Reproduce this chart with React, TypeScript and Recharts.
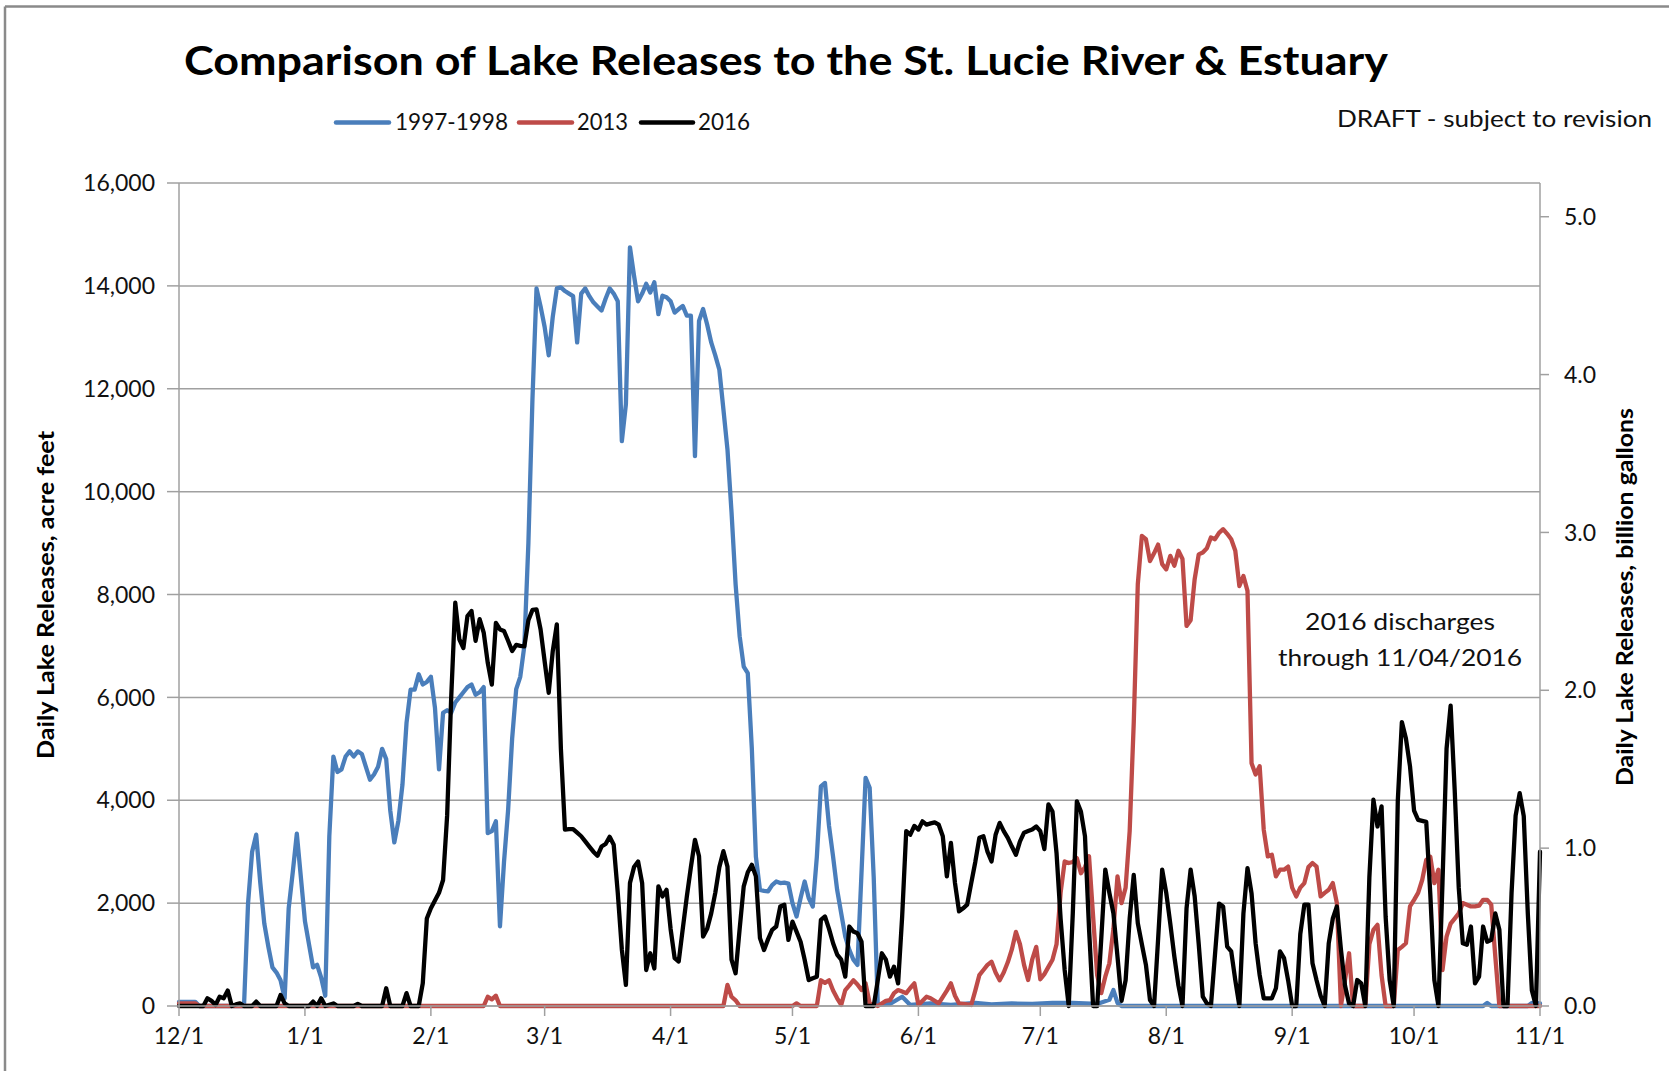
import React from 'react';
import { LineChart, Line, XAxis, YAxis, CartesianGrid } from 'recharts';

// x axis: day index counted from 12/1
const monthTickDays = [0, 31, 62, 90, 121, 151, 182, 212, 243, 274, 304, 335];
const monthTickLabels = ['12/1', '1/1', '2/1', '3/1', '4/1', '5/1', '6/1', '7/1', '8/1', '9/1', '10/1', '11/1'];
const acreFeetTicks = [0, 2000, 4000, 6000, 8000, 10000, 12000, 14000, 16000];
const billionGallonTicks = [0, 1, 2, 3, 4, 5];
const GALLONS_PER_ACRE_FOOT = 325851;

const seriesNames = ['1997-1998', '2013', '2016'];

// [day, acre feet]
const releases1997_98: [number, number][] = [
  [0, 80], [4, 80], [5, 0], [16, 0], [17, 2000], [18, 3000], [19, 3330], [20, 2400], [21, 1600], [22, 1150], [23, 750],
  [24, 650], [25, 500], [26, 150], [27, 1900], [28, 2600], [29, 3350], [30, 2500], [31, 1650], [32, 1200], [33, 750],
  [34, 800], [35, 550], [36, 200], [37, 3300], [38, 4850], [39, 4550], [40, 4600], [41, 4850], [42, 4950], [43, 4850],
  [44, 4950], [45, 4900], [46, 4650], [47, 4400], [48, 4500], [49, 4650], [50, 5000], [51, 4800], [52, 3800], [53, 3180],
  [54, 3600], [55, 4300], [56, 5500], [57, 6150], [58, 6150], [59, 6450], [60, 6250], [61, 6300], [62, 6400], [63, 5800],
  [64, 4600], [65, 5700], [66, 5750], [67, 5700], [68, 5900], [69, 6000], [70, 6100], [71, 6200], [72, 6250], [73, 6050],
  [74, 6100], [75, 6200], [76, 3360], [77, 3400], [78, 3590], [79, 1550], [80, 2800], [81, 3800], [82, 5200], [83, 6160],
  [84, 6400], [85, 7000], [86, 9000], [87, 11800], [88, 13950], [89, 13600], [90, 13200], [91, 12650], [92, 13400],
  [93, 13950], [94, 13970], [95, 13900], [96, 13850], [97, 13800], [98, 12900], [99, 13850], [100, 13950], [101, 13800],
  [102, 13680], [103, 13600], [104, 13520], [105, 13750], [106, 13950], [107, 13850], [108, 13700], [109, 10980],
  [110, 11700], [111, 14750], [112, 14200], [113, 13700], [114, 13850], [115, 14040], [116, 13870], [117, 14070],
  [118, 13450], [119, 13810], [120, 13780], [121, 13700], [122, 13480], [123, 13550], [124, 13610], [125, 13420],
  [126, 13420], [127, 10690], [128, 13320], [129, 13550], [130, 13250], [131, 12900], [132, 12650], [133, 12370],
  [134, 11600], [135, 10820], [136, 9600], [137, 8200], [138, 7190], [139, 6600], [140, 6470], [141, 5000], [142, 2900],
  [143, 2257], [144, 2240], [145, 2230], [146, 2350], [147, 2420], [148, 2390], [149, 2400], [150, 2380], [151, 2000],
  [152, 1740], [153, 2100], [154, 2420], [155, 2100], [156, 1935], [157, 2900], [158, 4270], [159, 4336], [160, 3500],
  [161, 2900], [162, 2257], [163, 1800], [164, 1350], [165, 1090], [166, 900], [167, 800], [168, 2600], [169, 4435],
  [170, 4240], [171, 2500], [172, 20], [175, 40], [178, 180], [180, 20], [185, 50], [190, 20], [196, 60], [200, 30],
  [205, 50], [210, 40], [215, 60], [220, 60], [226, 40], [229, 120], [230, 310], [231, 60], [232, 0], [321, 0], [322, 60],
  [323, 0], [332, 0], [333, 60], [335, 50],
];

const releases2013: [number, number][] = [
  [0, 50], [4, 50], [5, 0], [75, 0], [76, 180], [77, 130], [78, 200], [79, 0], [134, 0], [135, 410], [136, 180], [137, 110],
  [138, 0], [151, 0], [152, 50], [153, 0], [157, 0], [158, 500], [159, 450], [160, 500], [161, 300], [162, 150], [163, 20],
  [164, 310], [165, 400], [166, 500], [167, 420], [168, 310], [169, 440], [170, 50], [172, 0], [174, 100], [175, 115],
  [176, 250], [177, 310], [178, 280], [179, 250], [180, 350], [181, 440], [182, 20], [184, 180], [185, 150], [187, 50],
  [189, 300], [190, 440], [191, 200], [192, 50], [195, 20], [196, 300], [197, 600], [198, 700], [199, 800], [200, 860],
  [201, 650], [202, 500], [203, 650], [204, 850], [205, 1100], [206, 1440], [207, 1200], [208, 800], [209, 505],
  [210, 900], [211, 1150], [212, 520], [213, 620], [214, 760], [215, 900], [216, 1200], [217, 2200], [218, 2810],
  [219, 2780], [220, 2800], [221, 2875], [222, 2580], [223, 2700], [224, 2910], [225, 1740], [226, 600], [227, 250],
  [228, 570], [229, 830], [230, 1500], [231, 2520], [232, 2000], [233, 2300], [234, 3400], [235, 5500], [236, 8200],
  [237, 9140], [238, 9075], [239, 8650], [240, 8800], [241, 8970], [242, 8590], [243, 8490], [244, 8750], [245, 8560],
  [246, 8850], [247, 8690], [248, 7390], [249, 7500], [250, 8300], [251, 8780], [252, 8815], [253, 8900], [254, 9110],
  [255, 9075], [256, 9200], [257, 9270], [258, 9180], [259, 9075], [260, 8850], [261, 8165], [262, 8360], [263, 8070],
  [264, 4720], [265, 4500], [266, 4660], [267, 3427], [268, 2908], [269, 2940], [270, 2520], [271, 2650], [272, 2650],
  [273, 2710], [274, 2300], [275, 2130], [276, 2300], [277, 2390], [278, 2700], [279, 2780], [280, 2710], [281, 2130],
  [282, 2200], [283, 2260], [284, 2390], [285, 2000], [286, 0], [287, 500], [288, 1025], [289, 0], [292, 0], [293, 1200],
  [294, 1480], [295, 1577], [296, 600], [297, 0], [299, 0], [300, 1090], [301, 1150], [302, 1220], [303, 1935],
  [304, 2064], [305, 2200], [306, 2450], [307, 2840], [308, 2900], [309, 2390], [310, 2650], [311, 700], [312, 1350],
  [313, 1600], [314, 1700], [315, 1800], [316, 2000], [317, 1970], [318, 1935], [319, 1935], [320, 1950], [321, 2064],
  [322, 2064], [323, 1970], [324, 960], [325, 0], [335, 0],
];

const releases2016: [number, number][] = [
  [0, 0], [6, 0], [7, 150], [8, 100], [9, 20], [10, 180], [11, 150], [12, 300], [13, 0], [14, 30], [15, 50], [16, 0],
  [18, 0], [19, 85], [20, 0], [24, 0], [25, 215], [26, 50], [27, 0], [32, 0], [33, 85], [34, 0], [35, 150], [36, 0],
  [38, 50], [39, 0], [43, 0], [44, 40], [45, 0], [50, 0], [51, 345], [52, 0], [55, 0], [56, 250], [57, 0], [59, 0],
  [60, 440], [61, 1700], [62, 1900], [63, 2050], [64, 2200], [65, 2450], [66, 3700], [67, 6000], [68, 7840], [69, 7130],
  [70, 6960], [71, 7580], [72, 7680], [73, 7100], [74, 7520], [75, 7260], [76, 6670], [77, 6250], [78, 7450], [79, 7320],
  [80, 7290], [81, 7100], [82, 6900], [83, 7020], [84, 7000], [85, 6990], [86, 7500], [87, 7700], [88, 7710], [89, 7320],
  [90, 6700], [91, 6090], [92, 6900], [93, 7420], [94, 5000], [95, 3430], [96, 3440], [97, 3440], [98, 3370], [99, 3300],
  [100, 3200], [101, 3100], [102, 3000], [103, 2920], [104, 3100], [105, 3150], [106, 3290], [107, 3135], [108, 2200],
  [109, 1100], [110, 410], [111, 2390], [112, 2700], [113, 2810], [114, 2390], [115, 700], [116, 1025], [117, 730],
  [118, 2325], [119, 2130], [120, 2260], [121, 1500], [122, 930], [123, 865], [124, 1500], [125, 2130], [126, 2700],
  [127, 3230], [128, 2910], [129, 1350], [130, 1500], [131, 1800], [132, 2200], [133, 2700], [134, 3010], [135, 2710],
  [136, 900], [137, 636], [138, 1500], [139, 2325], [140, 2600], [141, 2745], [142, 2520], [143, 1320], [144, 1090],
  [145, 1300], [146, 1480], [147, 1545], [148, 1935], [149, 1970], [150, 1285], [151, 1640], [152, 1447], [153, 1250],
  [154, 900], [155, 505], [156, 540], [157, 570], [158, 1675], [159, 1740], [160, 1500], [161, 1220], [162, 1000],
  [163, 900], [164, 570], [165, 1545], [166, 1447], [167, 1415], [168, 1250], [169, 0], [171, 0], [172, 500], [173, 1025],
  [174, 900], [175, 570], [176, 765], [177, 440], [178, 1740], [179, 3400], [180, 3330], [181, 3500], [182, 3430],
  [183, 3590], [184, 3525], [185, 3550], [186, 3570], [187, 3525], [188, 3300], [189, 2520], [190, 3170], [191, 2390],
  [192, 1840], [193, 1900], [194, 1970], [195, 2390], [196, 2800], [197, 3270], [198, 3300], [199, 3000], [200, 2810],
  [201, 3330], [202, 3560], [203, 3400], [204, 3270], [205, 3100], [206, 2940], [207, 3200], [208, 3370], [209, 3400],
  [210, 3430], [211, 3490], [212, 3400], [213, 3050], [214, 3920], [215, 3780], [216, 2970], [217, 1700], [218, 700],
  [219, 0], [220, 1800], [221, 3980], [222, 3780], [223, 3300], [224, 1500], [225, 0], [226, 0], [227, 1300], [228, 2650],
  [229, 2200], [230, 1800], [231, 960], [232, 100], [233, 500], [234, 1700], [235, 2550], [236, 1610], [237, 1200],
  [238, 800], [239, 115], [240, 0], [241, 1300], [242, 2650], [243, 2200], [244, 1600], [245, 960], [246, 400], [247, 0],
  [248, 1900], [249, 2650], [250, 2130], [251, 1200], [252, 180], [253, 50], [254, 0], [255, 1000], [256, 1990],
  [257, 1935], [258, 1155], [259, 1060], [260, 500], [261, 0], [262, 1800], [263, 2680], [264, 2190], [265, 1220],
  [266, 600], [267, 150], [268, 150], [269, 150], [270, 345], [271, 1060], [272, 930], [273, 500], [274, 0], [275, 0],
  [276, 1400], [277, 1970], [278, 1970], [279, 830], [280, 500], [281, 200], [282, 0], [283, 1220], [284, 1700],
  [285, 1935], [286, 1100], [287, 400], [288, 50], [289, 0], [290, 505], [291, 440], [292, 0], [293, 2500], [294, 4010],
  [295, 3490], [296, 3880], [297, 1740], [298, 500], [299, 0], [300, 4000], [301, 5520], [302, 5200], [303, 4660],
  [304, 3800], [305, 3620], [306, 3600], [307, 3580], [308, 2170], [309, 500], [310, 0], [311, 2400], [312, 5000],
  [313, 5840], [314, 4200], [315, 2300], [316, 1220], [317, 1190], [318, 1545], [319, 440], [320, 570], [321, 1545],
  [322, 1250], [323, 1285], [324, 1800], [325, 1480], [326, 0], [327, 0], [328, 2200], [329, 3700], [330, 4140],
  [331, 3690], [332, 1800], [333, 300], [334, 0], [335, 3000],
];

const seriesColors = ['#4A7EBB', '#BE4B48', '#000000'];

const toRows = (pairs: [number, number][]) => pairs.map(([day, value]) => ({ day, value }));

const W = 1669;
const H = 1071;
const FONT = 'Lato, "Open Sans", sans-serif';

const legendItems = [
  { name: seriesNames[0], color: seriesColors[0], x1: 336, x2: 389, tx: 395, tl: 113 },
  { name: seriesNames[1], color: seriesColors[1], x1: 519, x2: 572, tx: 577, tl: 51 },
  { name: seriesNames[2], color: seriesColors[2], x1: 641, x2: 693, tx: 698, tl: 52 },
];

export default function App() {
  const rightMax = (16000 * GALLONS_PER_ACRE_FOOT) / 1e9;
  return (
    <div style={{ position: 'absolute', left: 0, top: 0, width: W, height: H, background: '#fff', fontFamily: FONT }}>
      <LineChart
        width={W}
        height={H}
        margin={{ top: 183, right: 49, bottom: 25, left: 79 }}
      >
        <CartesianGrid yAxisId="left" vertical={false} stroke="#a0a0a0" strokeWidth={1.5} />
        <XAxis
          dataKey="day"
          type="number"
          domain={[0, 335]}
          ticks={monthTickDays}
          tickFormatter={(v: number) => monthTickLabels[monthTickDays.indexOf(v)] ?? ''}
          allowDuplicatedCategory={false}
          height={40}
          tickSize={10}
          tickMargin={12}
          stroke="#a0a0a0"
          strokeWidth={1.5}
          tick={{ fill: '#111', fontSize: 23, fontFamily: FONT }}
          interval={0}
        />
        <YAxis
          yAxisId="left"
          domain={[0, 16000]}
          ticks={acreFeetTicks}
          tickFormatter={(v: number) => v.toLocaleString('en-US')}
          width={100}
          tickSize={12}
          tickMargin={12}
          stroke="#a0a0a0"
          strokeWidth={1.5}
          tick={{ fill: '#111', fontSize: 23, fontFamily: FONT }}
          interval={0}
        />
        <YAxis
          yAxisId="right"
          orientation="right"
          domain={[0, rightMax]}
          ticks={billionGallonTicks}
          tickFormatter={(v: number) => v.toFixed(1)}
          width={80}
          tickSize={9}
          tickMargin={15}
          stroke="#a0a0a0"
          strokeWidth={1.5}
          tick={{ fill: '#111', fontSize: 23, fontFamily: FONT }}
          interval={0}
          allowDataOverflow
        />
        <Line yAxisId="right" data={[]} dataKey="value" stroke="none" dot={false} legendType="none" isAnimationActive={false} />
        {[releases1997_98, releases2013, releases2016].map((s, i) => (
          <Line
            key={seriesNames[i]}
            yAxisId="left"
            data={toRows(s)}
            dataKey="value"
            name={seriesNames[i]}
            type="linear"
            stroke={seriesColors[i]}
            strokeWidth={4.3}
            strokeLinejoin="round"
            strokeLinecap="round"
            dot={false}
            activeDot={false}
            isAnimationActive={false}
          />
        ))}
      </LineChart>
      <svg width={W} height={H} style={{ position: 'absolute', left: 0, top: 0, pointerEvents: 'none' }}>
        <line x1={5} y1={6.5} x2={W} y2={6.5} stroke="#8a8a8a" strokeWidth={2.5} />
        <line x1={5} y1={6.5} x2={5} y2={H} stroke="#8a8a8a" strokeWidth={2.5} />
        <text x={786} y={75} textAnchor="middle" fontFamily={FONT} fontWeight={700} fontSize={40} fill="#000"
          textLength={1204} lengthAdjust="spacingAndGlyphs">
          Comparison of Lake Releases to the St. Lucie River &amp; Estuary
        </text>
        {legendItems.map((it) => (
          <g key={it.name}>
            <line x1={it.x1} y1={122.5} x2={it.x2} y2={122.5} stroke={it.color} strokeWidth={4.5} strokeLinecap="round" />
            <text x={it.tx} y={130} fontFamily={FONT} fontSize={23} fill="#111" textLength={it.tl} lengthAdjust="spacingAndGlyphs">
              {it.name}
            </text>
          </g>
        ))}
        <text x={1337} y={127} fontFamily={FONT} fontSize={24} fill="#111" textLength={315} lengthAdjust="spacingAndGlyphs">
          DRAFT - subject to revision
        </text>
        <text x={1400} y={630} textAnchor="middle" fontFamily={FONT} fontSize={24} fill="#111" textLength={190} lengthAdjust="spacingAndGlyphs">
          2016 discharges
        </text>
        <text x={1400} y={666} textAnchor="middle" fontFamily={FONT} fontSize={24} fill="#111" textLength={244} lengthAdjust="spacingAndGlyphs">
          through 11/04/2016
        </text>
        <text x={46} y={595} transform="rotate(-90 46 595)" textAnchor="middle" dy="0.35em" fontFamily={FONT} fontWeight={700}
          fontSize={22} fill="#000" textLength={328} lengthAdjust="spacingAndGlyphs">
          Daily Lake Releases, acre feet
        </text>
        <text x={1625} y={597} transform="rotate(-90 1625 597)" textAnchor="middle" dy="0.35em" fontFamily={FONT} fontWeight={700}
          fontSize={22} fill="#000" textLength={378} lengthAdjust="spacingAndGlyphs">
          Daily Lake Releases, billion gallons
        </text>
      </svg>
    </div>
  );
}
